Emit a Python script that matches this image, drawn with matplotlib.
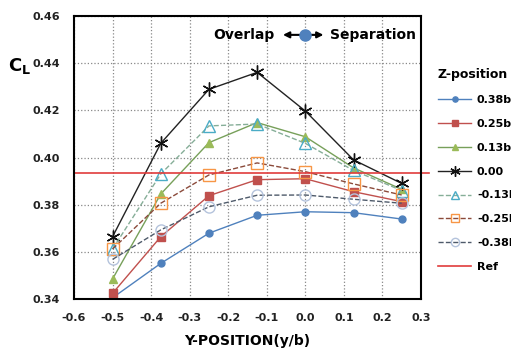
import matplotlib
matplotlib.use('Agg')
import matplotlib.pyplot as plt

# y/b positions
y_pos = [-0.5, -0.375, -0.25, -0.125, 0.0, 0.125, 0.25]

# CL per Z-position
cl_p038 = [0.3405, 0.3551, 0.3679, 0.3755, 0.3770, 0.3766, 0.3739]
cl_p025 = [0.3424, 0.3664, 0.3838, 0.3906, 0.3910, 0.3855, 0.3813]
cl_p013 = [0.3485, 0.3845, 0.4063, 0.4148, 0.4088, 0.3956, 0.3865]
cl_000 = [0.3664, 0.4060, 0.4289, 0.4361, 0.4197, 0.3990, 0.3890]
cl_m013 = [0.3612, 0.3930, 0.4134, 0.4142, 0.4060, 0.3945, 0.3860]
cl_m025 = [0.3612, 0.3806, 0.3926, 0.3977, 0.3940, 0.3888, 0.3841]
cl_m038 = [0.3568, 0.3693, 0.3791, 0.3840, 0.3841, 0.3823, 0.3806]
cl_ref = 0.3934

labels = ['0.38b', '0.25b', '0.13b', '0.00', '-0.13b', '-0.25b', '-0.38b']

fig = plt.figure(figsize=(5.11, 3.5), dpi=100)
ax = fig.add_axes([74/511, 51/350, 347/511, 283/350])

ax.plot(y_pos, cl_p038, '-', color='#4F81BD', lw=1, marker='o', ms=5,
		mfc='#4F81BD', mec='#4F81BD', label=labels[0])
ax.plot(y_pos, cl_p025, '-', color='#C0504D', lw=1, marker='s', ms=5.5,
		mfc='#C0504D', mec='#C0504D', label=labels[1])
ax.plot(y_pos, cl_p013, '-', color='#77A05A', lw=1, marker='^', ms=6,
		mfc='#9BBB59', mec='#9BBB59', label=labels[2])
ax.plot(y_pos, cl_000, '-', color='#222222', lw=1, marker=(6, 2, 0), ms=10,
		mec='#111111', mew=1, label=labels[3])
ax.plot(y_pos, cl_m013, '--', color='#86AE98', lw=1, marker='^', ms=8,
		mfc='none', mec='#4BACC6', label=labels[4])
ax.plot(y_pos, cl_m025, '--', color='#8B4A3A', lw=1, marker='s', ms=8,
		mfc='none', mec='#F79646', label=labels[5])
ax.plot(y_pos, cl_m038, '--', color='#4E5A6A', lw=1, marker='o', ms=8,
		mfc='none', mec='#B4C3DC', label=labels[6])
ax.plot([-0.6, 0.32], [cl_ref, cl_ref], '-', color='#E03C3C', lw=1.2,
		clip_on=False, label='Ref')

ax.set_xlim(-0.6, 0.3)
ax.set_ylim(0.34, 0.46)
ax.set_xticks([-0.6, -0.5, -0.4, -0.3, -0.2, -0.1, 0.0, 0.1, 0.2, 0.3])
ax.set_yticks([0.34, 0.36, 0.38, 0.40, 0.42, 0.44, 0.46])
ax.set_xticklabels(['%.1f' % v for v in ax.get_xticks()])
ax.set_yticklabels(['%.2f' % v for v in ax.get_yticks()])
ax.tick_params(length=0, pad=10, labelsize=8, labelcolor='#222222')
for t in ax.get_xticklabels() + ax.get_yticklabels():
	t.set_fontweight('bold')
ax.grid(True, linestyle=':', color='#888888', lw=0.9)
for s in ax.spines.values():
	s.set_linewidth(1.5)
	s.set_color('black')

ax.set_xlabel('Y-POSITION(y/b)', fontsize=10, fontweight='bold', labelpad=8)
fig.text(8/511, 1 - 66/350, r'$\mathbf{C_L}$', fontsize=13, va='center', ha='left')

# overlap / separation note
ax.text(-0.24, 0.452, 'Overlap', fontsize=10, fontweight='bold', va='center', ha='left')
ax.text(0.063, 0.452, 'Separation', fontsize=10, fontweight='bold', va='center', ha='left')
ax.annotate('', xy=(-0.058, 0.452), xytext=(0.047, 0.452),
			arrowprops=dict(arrowstyle='<|-|>', color='black', lw=1.5,
							mutation_scale=9, shrinkA=0, shrinkB=0))
ax.plot([0.0], [0.452], 'o', ms=8, color='#4F81BD', zorder=5)

leg = fig.legend(loc='upper left', bbox_to_anchor=(428/511, 1 - 58/350),
				 frameon=False, fontsize=8, handlelength=3.0, handletextpad=0.5,
				 labelspacing=1.25, markerscale=0.75, title='Z-position',
				 title_fontproperties={'weight': 'bold', 'size': 9})
leg._legend_box.align = 'left'
for t in leg.get_texts():
	t.set_fontweight('bold')

fig.savefig('out.png', dpi=100)
